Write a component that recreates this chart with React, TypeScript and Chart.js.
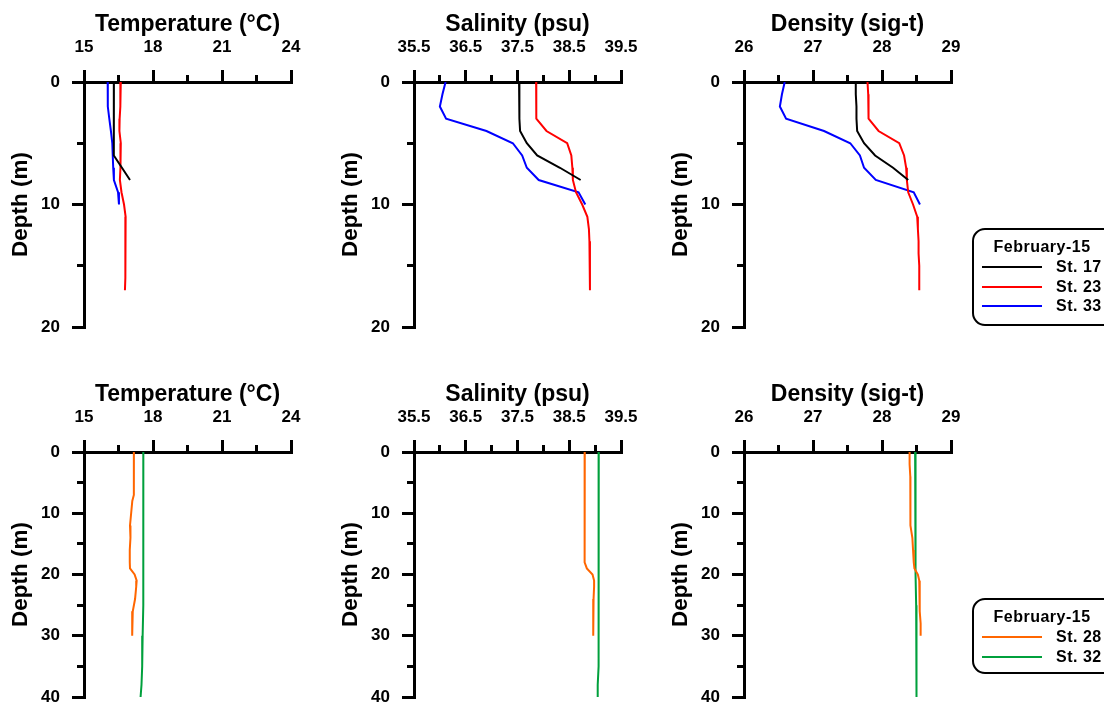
import React, { useEffect, useRef } from "react";
import { Chart, registerables } from "chart.js";
Chart.register(...registerables);

// ---------- data ----------
const legendTitle = "February-15";

const st17Depth = [0, 1, 2, 3, 4, 5, 6, 7, 8];
const st17Temperature = [16.3, 16.3, 16.3, 16.3, 16.29, 16.29, 16.3, 16.65, 17.0];
const st17Salinity = [37.53, 37.53, 37.54, 37.54, 37.55, 37.68, 37.88, 38.32, 38.72];
const st17Density = [27.62, 27.62, 27.63, 27.63, 27.64, 27.74, 27.9, 28.16, 28.38];

const st23Depth = [0, 1, 2, 3, 4, 5, 6, 7, 8, 9, 10, 11, 12, 13, 14, 15, 16, 17];
const st23Temperature = [16.6, 16.59, 16.57, 16.55, 16.54, 16.6, 16.59, 16.58, 16.56, 16.63, 16.74, 16.81, 16.81, 16.8, 16.8, 16.79, 16.79, 16.78];
const st23Salinity = [37.86, 37.86, 37.86, 37.87, 38.06, 38.46, 38.54, 38.56, 38.57, 38.63, 38.75, 38.85, 38.88, 38.89, 38.9, 38.9, 38.9, 38.9];
const st23Density = [27.79, 27.8, 27.8, 27.81, 27.95, 28.25, 28.32, 28.35, 28.36, 28.38, 28.45, 28.51, 28.52, 28.53, 28.53, 28.54, 28.54, 28.54];

const st33Depth = [0, 1, 2, 3, 4, 5, 6, 7, 8, 9, 10];
const st33Temperature = [16.03, 16.03, 16.04, 16.1, 16.17, 16.23, 16.25, 16.27, 16.3, 16.48, 16.52];
const st33Salinity = [36.11, 36.05, 36.0, 36.12, 36.9, 37.41, 37.59, 37.68, 37.91, 38.68, 38.81];
const st33Density = [26.59, 26.55, 26.52, 26.61, 27.16, 27.54, 27.68, 27.74, 27.91, 28.46, 28.55];

const st28Depth = [0, 2, 4, 6, 7, 8, 10, 12, 14, 16, 18, 19, 20, 21, 22, 24, 26, 28, 30];
const st28Temperature = [17.17, 17.17, 17.17, 17.17, 17.16, 17.1, 17.05, 17.0, 17.02, 16.99, 16.99, 17.0, 17.2, 17.29, 17.27, 17.22, 17.12, 17.1, 17.09];
const st28Salinity = [38.8, 38.8, 38.8, 38.8, 38.8, 38.79, 38.79, 38.79, 38.8, 38.8, 38.8, 38.84, 38.95, 38.98, 38.98, 38.97, 38.97, 38.96, 38.96];
const st28Density = [28.4, 28.4, 28.41, 28.41, 28.41, 28.41, 28.41, 28.42, 28.44, 28.45, 28.46, 28.47, 28.52, 28.54, 28.54, 28.55, 28.55, 28.56, 28.56];

const st32Depth = [0, 5, 10, 15, 20, 25, 30, 35, 38, 40];
const st32Temperature = [17.58, 17.58, 17.58, 17.58, 17.58, 17.57, 17.55, 17.53, 17.5, 17.46];
const st32Salinity = [39.07, 39.07, 39.07, 39.07, 39.07, 39.07, 39.06, 39.06, 39.05, 39.05];
const st32Density = [28.48, 28.48, 28.485, 28.49, 28.49, 28.495, 28.5, 28.5, 28.5, 28.5];

// axis definitions (value ranges and tick steps)
const temperatureAxis = { title: "Temperature (°C)", min: 15, max: 24, major: 3, minor: 1.5, decimals: 0 };
const salinityAxis = { title: "Salinity (psu)", min: 35.5, max: 39.5, major: 1, minor: 0.5, decimals: 1 };
const densityAxis = { title: "Density (sig-t)", min: 26, max: 29, major: 1, minor: 0.5, decimals: 0 };
const depthTitle = "Depth (m)";
const depthTopMax = 20;
const depthBottomMax = 40;
const depthMajor = 10;
const depthMinor = 5;

// ---------- styles ----------
const FONT = '"Liberation Sans", Arial, Helvetica, sans-serif';
const C_BLACK = "#000000";
const C_RED = "#ff0000";
const C_BLUE = "#0000ff";
const C_ORANGE = "#ff6600";
const C_GREEN = "#00a03c";

type Series = { label: string; color: string; depth: number[]; values: number[] };
type AxisDef = { title: string; min: number; max: number; major: number; minor: number; decimals: number };

const CW = 314;
const CH = 330;

function zeroPad(s: any) {
  s.paddingTop = 0;
  s.paddingBottom = 0;
  s.paddingLeft = 0;
  s.paddingRight = 0;
}

function Panel(props: { left: number; top: number; axis: AxisDef; depthMax: number; series: Series[] }) {
  const ref = useRef<HTMLCanvasElement | null>(null);
  const { left, top, axis, depthMax, series } = props;
  useEffect(() => {
    if (!ref.current) return;
    const tickFont = { family: FONT, size: 17, weight: "bold" as const };
    const titleFont = { family: FONT, size: 23, weight: "bold" as const };
    const chart = new Chart(ref.current, {
      type: "scatter",
      data: {
        datasets: series.map((s) => ({
          label: s.label,
          data: s.depth.map((d, i) => ({ x: s.values[i], y: d })),
          showLine: true,
          borderColor: s.color,
          backgroundColor: s.color,
          borderWidth: 2,
          pointRadius: 0,
          pointHoverRadius: 0,
          tension: 0,
          xAxisID: "x",
          yAxisID: "y",
        })),
      },
      options: {
        animation: false,
        responsive: false,
        maintainAspectRatio: false,
        events: [],
        layout: { padding: { left: 0, top: 0, right: 30, bottom: 14 } },
        plugins: { legend: { display: false }, tooltip: { enabled: false } },
        scales: {
          x: {
            type: "linear",
            axis: "x",
            position: "top",
            weight: 1,
            min: axis.min,
            max: axis.max,
            ticks: {
              stepSize: axis.major,
              autoSkip: false,
              maxRotation: 0,
              padding: 12,
              color: "#000",
              font: tickFont,
              callback: (v: any) => Number(v).toFixed(axis.decimals),
            },
            grid: { drawOnChartArea: false, drawTicks: true, tickLength: 12, lineWidth: 3, color: "#000" },
            border: { display: true, width: 3, color: "#000" },
            title: { display: true, text: axis.title, color: "#000", font: titleFont, padding: 0 },
            afterFit: (s: any) => {
              s.height = 71;
              zeroPad(s);
            },
          },
          xm: {
            type: "linear",
            axis: "x",
            position: "top",
            weight: 0,
            min: axis.min,
            max: axis.max,
            ticks: { display: false, stepSize: axis.minor, autoSkip: false },
            grid: { drawOnChartArea: false, drawTicks: true, tickLength: 7, lineWidth: 3, color: "#000" },
            border: { display: false },
            afterFit: (s: any) => {
              s.height = 0;
              zeroPad(s);
            },
          },
          y: {
            type: "linear",
            axis: "y",
            position: "left",
            weight: 1,
            reverse: true,
            min: 0,
            max: depthMax,
            ticks: {
              stepSize: depthMajor,
              autoSkip: false,
              padding: 12,
              color: "#000",
              font: tickFont,
              callback: (v: any) => String(Math.round(Number(v))),
            },
            grid: { drawOnChartArea: false, drawTicks: true, tickLength: 12, lineWidth: 3, color: "#000" },
            border: { display: true, width: 3, color: "#000" },
            title: { display: true, text: depthTitle, color: "#000", font: { family: FONT, size: 22.5, weight: "bold" }, padding: 0 },
            afterFit: (s: any) => {
              s.width = 77;
              zeroPad(s);
            },
          },
          ym: {
            type: "linear",
            axis: "y",
            position: "left",
            weight: 0,
            reverse: true,
            min: 0,
            max: depthMax,
            ticks: { display: false, stepSize: depthMinor, autoSkip: false },
            grid: { drawOnChartArea: false, drawTicks: true, tickLength: 7, lineWidth: 3, color: "#000" },
            border: { display: false },
            afterFit: (s: any) => {
              s.width = 0;
              zeroPad(s);
            },
          },
        },
      } as any,
    });
    return () => chart.destroy();
  }, []);
  return (
    <canvas
      ref={ref}
      width={CW}
      height={CH}
      style={{ position: "absolute", left, top, width: CW, height: CH }}
    />
  );
}

function Legend(props: { top: number; height: number; series: Series[] }) {
  const { top, height, series } = props;
  const textStyle: React.CSSProperties = {
    position: "absolute",
    fontFamily: FONT,
    fontWeight: "bold",
    fontSize: 16,
    letterSpacing: "0.5px",
    lineHeight: "20px",
    color: "#000",
    whiteSpace: "nowrap",
  };
  return (
    <>
      <div
        style={{
          position: "absolute",
          left: 972,
          top,
          width: 160,
          height,
          border: "2px solid #000",
          borderRadius: 13,
          boxSizing: "border-box",
          background: "#fff",
        }}
      />
      <div style={{ ...textStyle, left: 972, width: 140, top: top + 18.5 - 10, textAlign: "center" }}>{legendTitle}</div>
      {series.map((s, i) => {
        const y = top + 39 + i * 19.5;
        return (
          <React.Fragment key={s.label}>
            <div style={{ position: "absolute", left: 982, width: 60, top: y - 1, height: 2, background: s.color }} />
            <div style={{ ...textStyle, left: 1056, top: y - 10 }}>{s.label}</div>
          </React.Fragment>
        );
      })}
    </>
  );
}

export default function App() {
  const topTemp: Series[] = [
    { label: "St. 17", color: C_BLACK, depth: st17Depth, values: st17Temperature },
    { label: "St. 23", color: C_RED, depth: st23Depth, values: st23Temperature },
    { label: "St. 33", color: C_BLUE, depth: st33Depth, values: st33Temperature },
  ];
  const topSal: Series[] = [
    { label: "St. 17", color: C_BLACK, depth: st17Depth, values: st17Salinity },
    { label: "St. 23", color: C_RED, depth: st23Depth, values: st23Salinity },
    { label: "St. 33", color: C_BLUE, depth: st33Depth, values: st33Salinity },
  ];
  const topDen: Series[] = [
    { label: "St. 17", color: C_BLACK, depth: st17Depth, values: st17Density },
    { label: "St. 23", color: C_RED, depth: st23Depth, values: st23Density },
    { label: "St. 33", color: C_BLUE, depth: st33Depth, values: st33Density },
  ];
  const botTemp: Series[] = [
    { label: "St. 28", color: C_ORANGE, depth: st28Depth, values: st28Temperature },
    { label: "St. 32", color: C_GREEN, depth: st32Depth, values: st32Temperature },
  ];
  const botSal: Series[] = [
    { label: "St. 28", color: C_ORANGE, depth: st28Depth, values: st28Salinity },
    { label: "St. 32", color: C_GREEN, depth: st32Depth, values: st32Salinity },
  ];
  const botDen: Series[] = [
    { label: "St. 28", color: C_ORANGE, depth: st28Depth, values: st28Density },
    { label: "St. 32", color: C_GREEN, depth: st32Depth, values: st32Density },
  ];
  return (
    <div
      style={{
        position: "absolute",
        left: 0,
        top: 0,
        width: 1104,
        height: 702,
        overflow: "hidden",
        background: "#fff",
      }}
    >
      <Panel left={7} top={11} axis={temperatureAxis} depthMax={depthTopMax} series={topTemp} />
      <Panel left={337} top={11} axis={salinityAxis} depthMax={depthTopMax} series={topSal} />
      <Panel left={667} top={11} axis={densityAxis} depthMax={depthTopMax} series={topDen} />
      <Panel left={7} top={381} axis={temperatureAxis} depthMax={depthBottomMax} series={botTemp} />
      <Panel left={337} top={381} axis={salinityAxis} depthMax={depthBottomMax} series={botSal} />
      <Panel left={667} top={381} axis={densityAxis} depthMax={depthBottomMax} series={botDen} />
      <Legend top={228} height={98} series={topTemp} />
      <Legend top={598} height={76} series={botTemp} />
    </div>
  );
}
